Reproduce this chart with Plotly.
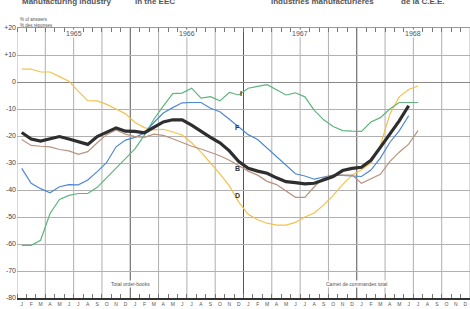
import plotly.graph_objects as go

months_letters = ["J", "F", "M", "A", "M", "J", "J", "A", "S", "O", "N", "D"]
years = ["1965", "1966", "1967", "1968"]
ytick_vals = [20, 10, 0, -10, -20, -30, -40, -50, -60, -70, -80]
ytick_text = ["+20", "+10", "0", "-10", "-20", "-30", "-40", "-50", "-60", "-70", "-80"]

# monthly values (% of answers), starting Jan 1965
total = [-18.7, -21.1, -21.9, -21.1, -20.2, -21.1, -22.1, -23.1, -20.2, -18.5, -17.0, -18.2,
         -18.3, -18.8, -16.9, -14.8, -14.0, -14.0, -16.0, -18.3, -20.5, -22.5, -25.5, -29.5,
         -32.0, -33.0, -33.8, -35.5, -36.9, -37.3, -37.7, -37.5, -36.2, -35.0, -32.8, -32.0,
         -31.6, -29.0, -24.2, -19.3, -14.4, -8.8]
series_F = [-32.0, -37.5, -39.5, -41.0, -38.8, -38.0, -38.1, -36.3, -33.2, -29.8, -24.0, -21.5,
            -20.5, -18.9, -15.0, -11.5, -9.5, -7.7, -7.6, -7.6, -9.7, -11.0, -13.8, -16.5,
            -19.5, -21.3, -24.5, -27.5, -31.0, -34.0, -34.8, -36.0, -35.2, -34.5, -34.6, -34.8,
            -35.0, -32.6, -28.2, -22.4, -18.1, -12.5]
series_I = [-60.5, -60.5, -58.6, -48.7, -43.5, -42.0, -41.3, -41.3, -39.0, -35.5, -32.0, -28.5,
            -24.8, -19.7, -13.8, -8.9, -4.3, -4.1, -2.3, -6.0, -5.4, -7.0, -3.9, -4.8,
            -2.3, -1.6, -1.0, -2.9, -4.8, -4.0, -5.5, -10.5, -14.0, -16.5, -18.0, -18.2,
            -18.3, -14.8, -13.2, -10.0, -7.6, -7.6, -7.6]
series_D = [4.8, 4.8, 3.7, 3.7, 2.0, 0.3, -3.5, -6.9, -7.0, -8.3, -10.0, -11.8,
            -15.0, -16.9, -17.7, -17.5, -18.5, -19.6, -22.5, -26.0, -30.0, -34.0, -38.5, -44.5,
            -49.0, -51.0, -52.3, -53.0, -53.0, -52.0, -50.0, -48.5, -45.5, -42.0, -38.0, -34.5,
            -32.5, -30.0, -23.5, -12.0, -5.5, -2.8, -1.5]
series_B = [-21.3, -23.5, -23.8, -24.0, -25.0, -25.5, -26.8, -25.8, -22.5, -19.5, -17.8, -19.3,
            -20.2, -20.5, -19.3, -19.8, -21.0, -22.5, -23.8, -24.8, -26.0, -27.3, -29.0, -31.0,
            -33.0, -34.5, -36.8, -38.0, -40.5, -42.7, -42.7, -38.8, -35.5, -34.5, -34.5, -34.5,
            -37.5, -36.0, -34.2, -29.5, -26.0, -23.0, -18.0]

series = [
    ("D", series_D, "#f3c24c", 1.2),
    ("I", series_I, "#5fb47f", 1.2),
    ("F", series_F, "#4d88d4", 1.2),
    ("B", series_B, "#b8937f", 1.2),
    ("Total", total, "#2e2e2e", 3.2),
]
label_pos = {"I": (23.7, -4.4), "F": (23.4, -17.0), "B": (23.4, -31.9), "D": (23.4, -42.2)}

n_months = 48
fig = go.Figure()
for name, vals, color, w in series:
    fig.add_trace(go.Scatter(x=[i + 0.5 for i in range(len(vals))], y=vals, mode="lines",
                             line=dict(color=color, width=w), showlegend=False, hoverinfo="skip"))
# invisible trace to anchor the top axis
fig.add_trace(go.Scatter(x=[0], y=[0], xaxis="x2", mode="none", showlegend=False, hoverinfo="skip"))

shapes = []
for q in range(0, n_months + 1, 3):
    is_year = q % 12 == 0 and 0 < q < n_months
    shapes.append(dict(type="line", xref="x", yref="y", x0=q, x1=q, y0=-80, y1=20,
                       line=dict(color="#555" if is_year else "#b0b0b0", width=1), layer="below"))

annotations = []
for k, yr in enumerate(years):
    annotations.append(dict(x=6 + 12 * k, y=0.981, xref="x", yref="paper", text=yr, showarrow=False,
                            font=dict(size=7, color="#555", family="Liberation Sans"),
                            bgcolor="white", borderpad=0, xanchor="center", yanchor="middle"))
annotations.append(dict(x=12, y=0.037, xref="x", yref="paper", text="Total order-books", showarrow=False,
                        font=dict(size=5, color="#555", family="Liberation Sans"), bgcolor="white",
                        borderpad=0))
annotations.append(dict(x=36, y=0.037, xref="x", yref="paper", text="Carnet de commandes total",
                        showarrow=False, font=dict(size=5, color="#555", family="Liberation Sans"),
                        bgcolor="white", borderpad=0))
annotations.append(dict(x=0.002, y=1.048, xref="paper", yref="paper", text="% of answers", showarrow=False,
                        font=dict(size=4.5, color="#555", family="Liberation Sans"), xanchor="left"))
annotations.append(dict(x=0.002, y=1.026, xref="paper", yref="paper", text="% des réponses", showarrow=False,
                        font=dict(size=4.5, color="#555", family="Liberation Sans"), xanchor="left"))
for txt, xp in [("Manufacturing industry", 0.0066), ("in the EEC", 0.256),
                ("Industries manufacturières", 0.556), ("de la C.E.E.", 0.843)]:
    annotations.append(dict(x=xp, y=1.098, xref="paper", yref="paper", text="<b>" + txt + "</b>",
                            showarrow=False, xanchor="left", yanchor="middle",
                            font=dict(size=8, color="#555", family="Liberation Sans")))
for lab, (lx, ly) in label_pos.items():
    annotations.append(dict(x=lx, y=ly, xref="x", yref="y", text="<b>" + lab + "</b>", showarrow=False,
                            font=dict(size=7, color="#333", family="Liberation Sans")))

fig.update_layout(
    width=470, height=309,
    margin=dict(l=17, r=0, t=28, b=11),
    paper_bgcolor="white", plot_bgcolor="white",
    shapes=shapes, annotations=annotations,
    xaxis=dict(range=[0, n_months], tickmode="array",
               tickvals=[i + 0.5 for i in range(n_months)],
               ticktext=months_letters * 4, ticks="", showgrid=False, zeroline=False,
               showline=True, linecolor="#333", linewidth=1.5,
               tickfont=dict(size=5, color="#555", family="Liberation Sans"),
               minor=dict(tickmode="array", tickvals=list(range(n_months + 1)), ticks="inside",
                          ticklen=4, tickcolor="#777", tickwidth=1, showgrid=False)),
    xaxis2=dict(range=[0, n_months], overlaying="x", side="top", matches="x", showticklabels=False,
                ticks="", showgrid=False, zeroline=False, showline=True, linecolor="#999", linewidth=1,
                minor=dict(tickmode="array", tickvals=list(range(n_months + 1)), ticks="inside",
                           ticklen=4, tickcolor="#777", tickwidth=1, showgrid=False)),
    yaxis=dict(range=[-80, 20], tickmode="array", tickvals=ytick_vals, ticktext=ytick_text,
               ticks="", showgrid=True, gridcolor="#b0b0b0", gridwidth=1,
               zeroline=True, zerolinecolor="#888", zerolinewidth=1, showline=False,
               tickfont=dict(size=7, color="#444", family="Liberation Sans")),
)

fig.write_html("out.html")
